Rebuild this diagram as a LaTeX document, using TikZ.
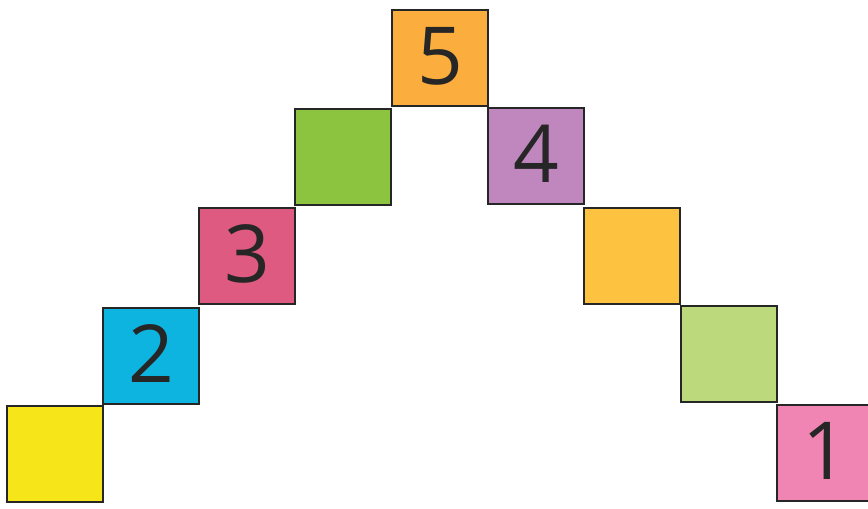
\documentclass[tikz,border=0pt]{standalone}
\usepackage{fontspec}
\setmainfont{Open Sans}
\definecolor{cyel}{HTML}{F6E619}
\definecolor{cblu}{HTML}{0DB4E0}
\definecolor{cred}{HTML}{DF5A80}
\definecolor{cgrn}{HTML}{8CC43F}
\definecolor{cora}{HTML}{FBAE3D}
\definecolor{cpur}{HTML}{BF87BE}
\definecolor{cyor}{HTML}{FDC340}
\definecolor{clgr}{HTML}{BCDA7B}
\definecolor{cpnk}{HTML}{F084B3}
\tikzset{
  sq/.style={draw=black!85, line width=1.5pt, minimum size=96pt, inner sep=0pt, outer sep=0pt, font=\fontsize{80}{80}\selectfont, text=black!85}
}
\begin{document}
\begin{tikzpicture}[x=1pt,y=-1pt]
\clip (0,0) rectangle (868,509);
\fill[white] (0,0) rectangle (868,509);
\node[sq, fill=cyel] (s1) at (55,454) {};
\node[sq, fill=cblu] (s2) at (151,356) {\raisebox{4pt}{2}};
\node[sq, fill=cred] (s3) at (247,256) {\raisebox{4pt}{3}};
\node[sq, fill=cgrn] (s4) at (343,157) {};
\node[sq, fill=cora] (s5) at (440,58) {\raisebox{4pt}{5}};
\node[sq, fill=cpur] (s6) at (536,156) {\raisebox{4pt}{4}};
\node[sq, fill=cyor] (s7) at (632,256) {};
\node[sq, fill=clgr] (s8) at (729,354) {};
\node[sq, fill=cpnk] (s9) at (825,453) {\raisebox{4pt}{1}};
\end{tikzpicture}
\end{document}
